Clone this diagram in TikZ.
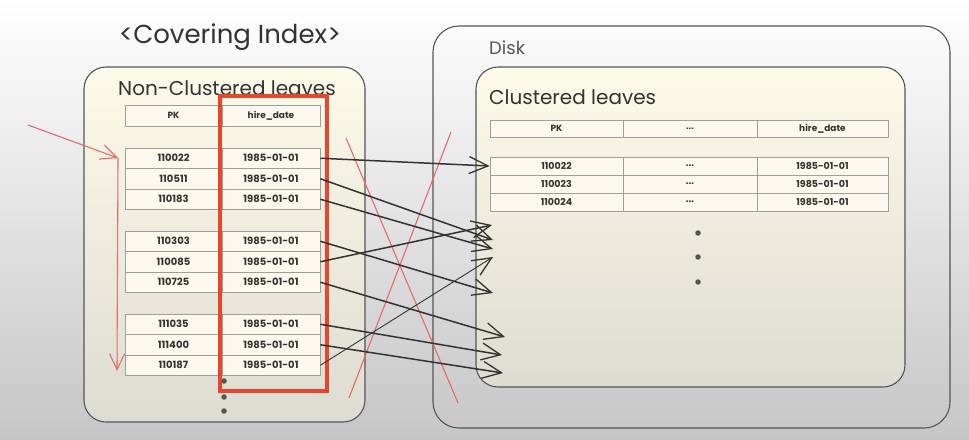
\documentclass[tikz,border=0pt]{standalone}
\usepackage{fontspec}
\setmainfont{Poppins}
\usepackage[svgnames]{xcolor}
\usepackage{tikz}
\usetikzlibrary{positioning, arrows.meta}
\usetikzlibrary{backgrounds}

\definecolor{cream}{HTML}{FCFAE8}
\definecolor{creamDark}{HTML}{DDDCD2}
\definecolor{cellFill}{HTML}{FBF9EE}
\definecolor{cellLine}{HTML}{A09F96}
\definecolor{boxLine}{HTML}{555555}
\definecolor{inkGray}{HTML}{333333}
\definecolor{bgGray}{HTML}{C6C6C6}
\definecolor{coverRed}{HTML}{E8452C}
\definecolor{markRed}{HTML}{E66A6A}

\begin{document}
\begin{tikzpicture}[x=1pt, y=-1pt,
    leafbox/.style={draw=boxLine, line width=1.1pt, rounded corners=22pt, top color=cream, bottom color=creamDark},
    diskbox/.style={draw=boxLine, line width=1.1pt, rounded corners=26pt},
    cell/.style={draw=cellLine, line width=0.7pt, fill=cellFill, inner sep=0pt, text=inkGray},
    lcell/.style={cell, minimum height=20.5pt, font=\fontsize{10}{12}\selectfont\bfseries},
    rcell/.style={cell, minimum height=18pt, font=\fontsize{9.5}{11}\selectfont\bfseries},
    hcell/.style={cell, font=\fontsize{9}{10}\selectfont\bfseries},
    heading/.style={text=inkGray, inner sep=0pt, font=\fontsize{20}{24}\selectfont},
    link/.style={draw=inkGray, line width=1.5pt, -{Straight Barb[length=19pt,width=17pt,line width=1.3pt]}},
    scan/.style={draw=markRed, line width=1.1pt, -{Straight Barb[length=16pt,width=15pt]}},
    dot/.style={circle, fill=boxLine, inner sep=0pt, minimum size=5.5pt}]
    \useasboundingbox (0,0) rectangle (969,439);
    \shade[top color=white, middle color=white, bottom color=bgGray] (0,0) rectangle (969,439);

    % index side
    \node[text=inkGray, font=\fontsize{26}{30}\selectfont] (title) at (230,37) {<Covering Index>};
    \node[leafbox, minimum width=281pt, minimum height=355pt] (ncl) at (224.5,244.5) {};
    \node[heading] (nclTitle) at (227,88) {Non-Clustered leaves};
    \node[hcell, minimum width=97pt, minimum height=21pt] (lh1) at (173.5,115.5) {PK};
    \node[hcell, minimum width=98pt, minimum height=21pt] (lh2) at (271,115.5) {hire\_date};
    \foreach \pk [count=\i] in {110022,110511,110183,110303,110085,110725,111035,111400,110187} {
        \pgfmathsetmacro\ry{158.25+83*int((\i-1)/3)+20.5*mod(\i-1,3)}
        \node[lcell, minimum width=97pt] (lp\i) at (173.5,\ry) {\pk};
        \node[lcell, minimum width=98pt] (ld\i) at (271,\ry) {1985-01-01};
    }
    \node[draw=coverRed, line width=3.4pt, minimum width=107pt, minimum height=295pt] (cover) at (273.5,243.5) {};
    \foreach \y [count=\i] in {381,397,411}
        \node[dot] (ldot\i) at (224,\y) {};

    % disk side
    \node[diskbox, minimum width=517pt, minimum height=402pt] (disk) at (691.5,227) {};
    \node[text=boxLine, anchor=west, inner sep=0pt, font=\fontsize{18}{22}\selectfont] (diskLabel) at (489,48) {Disk};
    \node[leafbox, minimum width=429pt, minimum height=320pt] (cl) at (690.5,227) {};
    \node[heading, anchor=west] (clTitle) at (489,97) {Clustered leaves};
    \node[hcell, minimum width=133pt, minimum height=17pt] (rh1) at (556.5,128.5) {PK};
    \node[hcell, minimum width=134pt, minimum height=17pt] (rh2) at (690,128.5) {...};
    \node[hcell, minimum width=131pt, minimum height=17pt] (rh3) at (822.5,128.5) {hire\_date};
    \foreach \pk [count=\i] in {110022,110023,110024} {
        \pgfmathsetmacro\ry{166+18*(\i-1)}
        \node[rcell, minimum width=133pt] (rp\i) at (556.5,\ry) {\pk};
        \node[rcell, minimum width=134pt] (rm\i) at (690,\ry) {...};
        \node[rcell, minimum width=131pt] (rd\i) at (822.5,\ry) {1985-01-01};
    }
    \foreach \y [count=\i] in {233,257,282}
        \node[dot] (rdot\i) at (698,\y) {};

    % crossed out
    \coordinate (xa1) at (346,138); \coordinate (xa2) at (458,403);
    \coordinate (xb1) at (451,132); \coordinate (xb2) at (349,398);
    \draw[markRed, line width=1.1pt] (xa1) -- (xa2) (xb1) -- (xb2);

    % scan order
    \coordinate (scanIn) at (28,125);
    \coordinate (scanTop) at (118,158);
    \coordinate (scanEnd) at (117,371);
    \draw[scan] (scanIn) -- (scanTop);
    \draw[scan] (scanTop) -- (scanEnd);

    % lookups into clustered leaves
    \coordinate (t2) at (493,240);
    \coordinate (t3) at (493,249);
    \coordinate (t4) at (493,293);
    \coordinate (t5) at (492,225);
    \coordinate (t6) at (505,337);
    \coordinate (t7) at (502,355);
    \coordinate (t8) at (503,373);
    \coordinate (t9) at (493,257);
    \draw[link] (ld1.east) -- (rp1.west);
    \foreach \i in {2,...,8}
        \draw[link] (ld\i.east) -- (t\i);
    \draw[link, line width=0.9pt] (ld9.east) -- (t9);
    %\draw[link] (ld9.east) -- (rp3.west);
\end{tikzpicture}
\end{document}
